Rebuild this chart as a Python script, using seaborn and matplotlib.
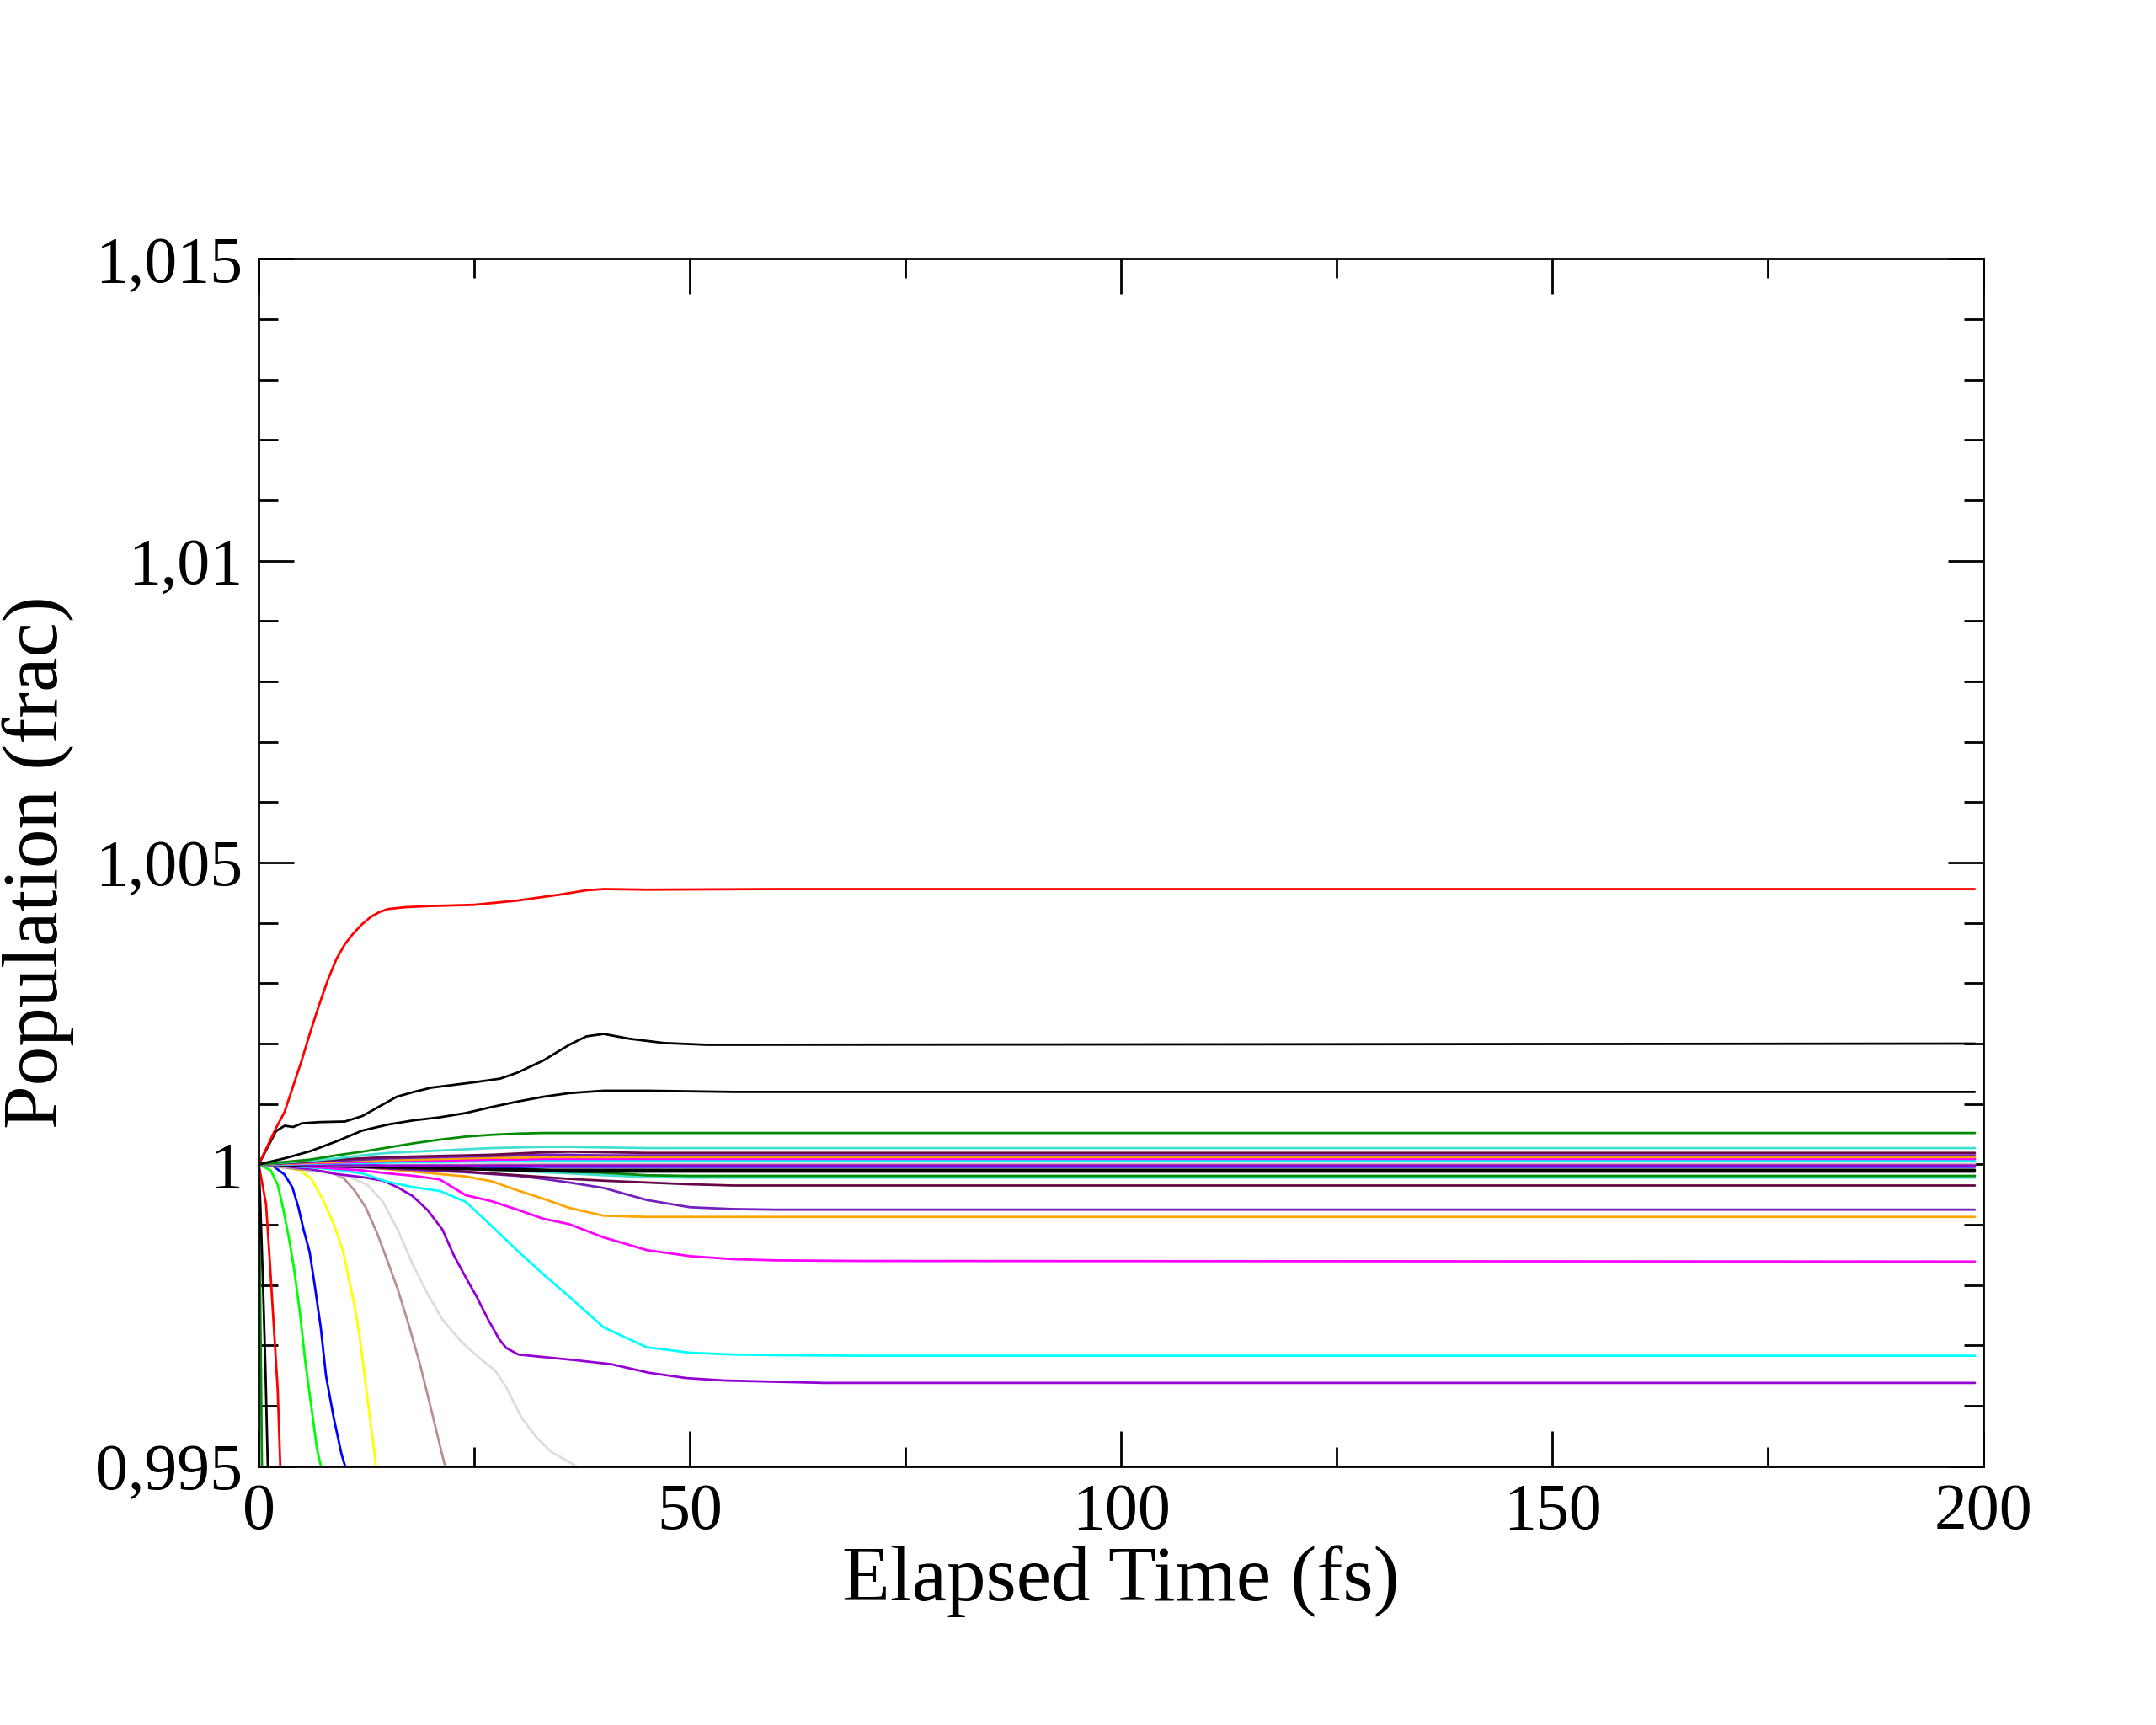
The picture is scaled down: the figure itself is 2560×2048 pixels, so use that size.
import numpy as np
import pandas as pd
import matplotlib
matplotlib.use("Agg")
import matplotlib.pyplot as plt
from matplotlib.ticker import MultipleLocator, FuncFormatter
import seaborn as sns

# ---------------- data ----------------
# shared time grid (fs) for the curves that settle to a plateau
T_GRID = [0, 3, 6, 9, 12, 15, 18, 21, 24, 27, 30, 33, 36, 40, 45, 50, 55, 60, 70, 199]

red_top_t = [0, 1, 2, 3, 4, 5, 6, 7, 8, 9, 10, 11, 12, 13, 14, 15, 17, 20, 25, 30, 35, 38, 40, 45, 60, 199]
red_top_v = [1.0, 1.0003, 1.0006, 1.00087, 1.0013, 1.00173, 1.0022, 1.00264, 1.00305, 1.0034, 1.00365,
             1.00383, 1.00398, 1.0041, 1.00418, 1.00423, 1.00426, 1.00428, 1.0043, 1.00437, 1.00447,
             1.00454, 1.00456, 1.00455, 1.00456, 1.00456]
black_top_t = [0, 2, 3, 4, 5, 7, 10, 12, 14, 16, 18, 20, 25, 28, 30, 33, 36, 38, 40, 43, 47, 52, 199]
black_top_v = [1.0, 1.00055, 1.00064, 1.00062, 1.00068, 1.0007, 1.00071, 1.0008, 1.00096, 1.00112, 1.0012,
               1.00127, 1.00136, 1.00142, 1.00152, 1.00172, 1.00198, 1.00212, 1.00216, 1.00208, 1.00201,
               1.00198, 1.002]
black_up2 = [1.0, 1.0001, 1.00022, 1.00038, 1.00056, 1.00066, 1.00073, 1.00078, 1.00085, 1.00095,
             1.00104, 1.00112, 1.00118, 1.00122, 1.00122, 1.00121, 1.0012, 1.0012, 1.0012, 1.0012]
green4_up = [1.0, 1.00004, 1.00008, 1.00015, 1.00021, 1.00028, 1.00035, 1.00041, 1.00046, 1.00049,
             1.00051, 1.00052, 1.00052, 1.00052, 1.00052, 1.00052, 1.00052, 1.00052, 1.00052, 1.00052]
turq_up = [1.0, 1.00003, 1.00006, 1.0001, 1.00015, 1.00019, 1.00021, 1.00023, 1.00025, 1.00027,
           1.00028, 1.00029, 1.00029, 1.00028, 1.00027, 1.00027, 1.00027, 1.00027, 1.00027, 1.00027]
maroon_up = [1.0, 1.00002, 1.00005, 1.00008, 1.0001, 1.00012, 1.00013, 1.00014, 1.00015, 1.00016,
             1.00018, 1.0002, 1.00021, 1.0002, 1.00019, 1.00019, 1.00019, 1.00019, 1.00019, 1.00019]
indigo_up = [1.0, 1.00002, 1.00004, 1.00006, 1.00008, 1.0001, 1.00011, 1.00012, 1.00013, 1.00014,
             1.00015, 1.00016, 1.00016, 1.00015, 1.00015, 1.00015, 1.00015, 1.00015, 1.00015, 1.00015]
orange_up = [1.0, 1.00001, 1.00003, 1.00004, 1.00006, 1.00007, 1.00008, 1.00009, 1.0001, 1.00011,
             1.00011, 1.00012, 1.00012, 1.00012, 1.00012, 1.00012, 1.00012, 1.00012, 1.00012, 1.00012]
magenta_up = [1.0, 1.00001, 1.00002, 1.00003, 1.00004, 1.00005, 1.00006, 1.00006, 1.00007, 1.00008,
              1.00008, 1.00009, 1.00009, 1.00009, 1.00009, 1.00009, 1.00009, 1.00009, 1.00009, 1.00009]
cyan_up = [1.0, 1.0, 1.00001, 1.00002, 1.00002, 1.00003, 1.00004, 1.00004, 1.00005, 1.00005,
           1.00006, 1.00006, 1.00006, 1.00006, 1.00006, 1.00006, 1.00006, 1.00006, 1.00006, 1.00006]
grey_mid = [1.0, 1.0, 1.0, 1.00001, 1.00001, 1.00001, 1.00002, 1.00002, 1.00002, 1.00003,
            1.00003, 1.00003, 1.00003, 1.00003, 1.00003, 1.00003, 1.00003, 1.00003, 1.00003, 1.00003]
brown_mid = [1.0, 1.0, 1.0, 1.0, 1.00001, 1.00001, 1.00001, 1.00001, 1.00001, 1.00001,
             1.00001, 1.00001, 1.00001, 1.00001, 1.00001, 1.00001, 1.00001, 1.00001, 1.00001, 1.00001]
yellow_mid = [1.0, 1.0, 1.0, 0.99999, 0.99999, 0.99999, 0.99998, 0.99998, 0.99998, 0.99999,
              0.99999, 1.0, 1.0, 1.0, 1.0, 1.0, 1.0, 1.0, 1.0, 1.0]
lime_mid = [1.0, 1.0, 1.0, 1.0, 0.99999, 0.99999, 0.99999, 0.99999, 0.99999, 0.99999,
            0.99999, 0.99999, 0.99999, 0.99999, 0.99999, 0.99999, 0.99999, 0.99999, 0.99999, 0.99999]
violet_mid = [1.0, 1.0, 0.99999, 0.99999, 0.99999, 0.99998, 0.99998, 0.99998, 0.99998, 0.99998,
              0.99998, 0.99998, 0.99998, 0.99998, 0.99998, 0.99998, 0.99998, 0.99998, 0.99998, 0.99998]
red_mid = [1.0, 1.0, 0.99999, 0.99999, 0.99998, 0.99998, 0.99998, 0.99997, 0.99997, 0.99997,
           0.99997, 0.99997, 0.99997, 0.99997, 0.99997, 0.99997, 0.99997, 0.99997, 0.99997, 0.99997]
blue_mid = [1.0, 1.0, 0.99999, 0.99999, 0.99998, 0.99998, 0.99997, 0.99997, 0.99997, 0.99996,
            0.99996, 0.99996, 0.99996, 0.99996, 0.99996, 0.99996, 0.99996, 0.99996, 0.99996, 0.99996]
black_mid1 = [1.0, 1.0, 0.99999, 0.99998, 0.99997, 0.99996, 0.99995, 0.99994, 0.99993, 0.99992,
              0.99992, 0.99991, 0.99991, 0.99991, 0.99991, 0.99991, 0.99991, 0.99991, 0.99991, 0.99991]
black_mid2 = [1.0, 0.99999, 0.99998, 0.99997, 0.99996, 0.99995, 0.99994, 0.99993, 0.99992, 0.99991,
              0.9999, 0.99989, 0.99988, 0.99988, 0.99988, 0.99988, 0.99988, 0.99988, 0.99988, 0.99988]
green4_lo = [1.0, 1.0, 1.0, 0.99999, 0.99999, 0.99998, 0.99998, 0.99997, 0.99997, 0.99995,
             0.99993, 0.99991, 0.99988, 0.99986, 0.99982, 0.99981, 0.99981, 0.99981, 0.99981, 0.99981]
turq_lo = [1.0, 1.0, 0.99999, 0.99998, 0.99997, 0.99996, 0.99995, 0.99994, 0.99993, 0.99991,
           0.99989, 0.99987, 0.99985, 0.99982, 0.99979, 0.99978, 0.99978, 0.99978, 0.99978, 0.99978]
maroon_lo = [1.0, 0.99999, 0.99998, 0.99997, 0.99996, 0.99994, 0.99993, 0.99991, 0.99988, 0.99985,
             0.99982, 0.99979, 0.99976, 0.99973, 0.9997, 0.99967, 0.99965, 0.99965, 0.99965, 0.99965]
indigo_lo = [1.0, 0.99999, 0.99998, 0.99996, 0.99995, 0.99993, 0.99991, 0.99989, 0.99987, 0.99984,
             0.99981, 0.99976, 0.9997, 0.99961, 0.99941, 0.99929, 0.99926, 0.99925, 0.99925, 0.99925]
orange_lo = [1.0, 1.0, 0.99999, 0.99997, 0.99995, 0.99992, 0.99988, 0.99984, 0.9998, 0.99972,
             0.99957, 0.99943, 0.99928, 0.99915, 0.99913, 0.99913, 0.99913, 0.99913, 0.99913, 0.99913]
magenta_lo = [1.0, 0.99999, 0.99996, 0.99993, 0.9999, 0.99985, 0.99981, 0.99975, 0.99949, 0.99939,
              0.99925, 0.9991, 0.99901, 0.99879, 0.99858, 0.99848, 0.99843, 0.99841, 0.9984, 0.99839]
cyan_lo = [1.0, 0.99998, 0.99995, 0.99991, 0.99985, 0.99971, 0.99962, 0.99956, 0.99938, 0.99898,
           0.99857, 0.99818, 0.99781, 0.9973, 0.99697, 0.99688, 0.99685, 0.99684, 0.99683, 0.99683]
violet_lo_t = [0, 3, 6, 9, 12, 14.4, 16.1, 17.8, 19.6, 21.3, 22.6, 24, 25.3, 26.6, 27.9, 28.7, 30.1,
               32.2, 36.5, 40.9, 45.2, 49.6, 54, 65.6, 199]
violet_lo_v = [1.0, 0.99997, 0.99992, 0.99984, 0.99979, 0.99973, 0.99962, 0.99948, 0.99924, 0.99892,
               0.9985, 0.99813, 0.9978, 0.99743, 0.9971, 0.99696, 0.99685, 0.99682, 0.99676, 0.99669,
               0.99655, 0.99646, 0.99642, 0.99638, 0.99638]

# fast decaying curves (leave the plotted range early)
grey_fast_t = [0, 5, 10.4, 12.6, 14.4, 16.1, 17.8, 19.6, 21.3, 23.5, 25.7, 27.4, 28.7, 30.5, 32.2, 33.9, 36.1, 38]
grey_fast_v = [1.0, 0.99994, 0.9998, 0.99966, 0.99938, 0.99892, 0.99836, 0.99785, 0.99743, 0.99706,
               0.99678, 0.99659, 0.99631, 0.9958, 0.99548, 0.99524, 0.99506, 0.9949]
brown_fast_t = [0, 3.9, 6.1, 8.3, 9.8, 11.1, 12.4, 13.7, 14.8, 16.1, 17.4, 18.7, 20.0, 21.1, 22.5]
brown_fast_v = [1.0, 0.99993, 0.9999, 0.99987, 0.99978, 0.99957, 0.99929, 0.99887, 0.99845, 0.99794,
                0.99734, 0.99669, 0.99594, 0.99529, 0.9945]
yellow_fast_t = [0, 2.6, 4.8, 6.1, 7.4, 8.7, 9.8, 10.4, 11.1, 11.75, 12.4, 13.1, 13.6, 14.5]
yellow_fast_v = [1.0, 0.99997, 0.9999, 0.99976, 0.99943, 0.99901, 0.99855, 0.99813, 0.99766, 0.9971,
                 0.99636, 0.99557, 0.99501, 0.9942]
blue_fast_t = [0, 1.7, 3.0, 3.9, 4.6, 5.2, 5.9, 6.5, 7.2, 7.8, 8.7, 9.6, 10.0, 11.0]
blue_fast_v = [1.0, 0.99997, 0.99983, 0.99962, 0.99929, 0.99892, 0.99855, 0.99799, 0.99729, 0.9965,
               0.9958, 0.9952, 0.99501, 0.9943]
lime_fast_t = [0, 1.4, 2.2, 2.8, 3.5, 4.1, 4.8, 5.4, 6.1, 6.75, 7.2, 8.0]
lime_fast_v = [1.0, 0.9999, 0.99966, 0.99929, 0.99878, 0.99827, 0.99752, 0.99673, 0.99599, 0.99529,
               0.99501, 0.9944]
red_fast_t = [0, 0.85, 1.3, 1.7, 2.2, 2.5, 3.0]
red_fast_v = [1.0, 0.99934, 0.99836, 0.99743, 0.99627, 0.99501, 0.9935]
black_fast_t = [0, 0.2, 0.5, 0.8, 1.05, 1.3]
black_fast_v = [1.0, 0.9993, 0.998, 0.9965, 0.995, 0.994]
green4_fast_t = [0, 0.1, 0.25, 0.37, 0.5]
green4_fast_v = [1.0, 0.9988, 0.9968, 0.995, 0.993]

# xmgrace default colour map
C = {
    "black": "#000000", "red": "#ff0000", "green": "#00ff00", "blue": "#0000ff",
    "yellow": "#ffff00", "brown": "#bc8f8f", "grey": "#dcdcdc", "violet": "#9400d3",
    "cyan": "#00ffff", "magenta": "#ff00ff", "orange": "#ffa500", "indigo": "#7221bc",
    "maroon": "#670748", "turquoise": "#40e0d0", "green4": "#008b00",
}

series = [
    ("green4_fast", green4_fast_t, green4_fast_v, "green4"),
    ("black_fast", black_fast_t, black_fast_v, "black"),
    ("red_fast", red_fast_t, red_fast_v, "red"),
    ("lime_fast", lime_fast_t, lime_fast_v, "green"),
    ("blue_fast", blue_fast_t, blue_fast_v, "blue"),
    ("yellow_fast", yellow_fast_t, yellow_fast_v, "yellow"),
    ("brown_fast", brown_fast_t, brown_fast_v, "brown"),
    ("grey_fast", grey_fast_t, grey_fast_v, "grey"),
    ("violet_lo", violet_lo_t, violet_lo_v, "violet"),
    ("cyan_lo", T_GRID, cyan_lo, "cyan"),
    ("magenta_lo", T_GRID, magenta_lo, "magenta"),
    ("orange_lo", T_GRID, orange_lo, "orange"),
    ("indigo_lo", T_GRID, indigo_lo, "indigo"),
    ("maroon_lo", T_GRID, maroon_lo, "maroon"),
    ("turq_lo", T_GRID, turq_lo, "turquoise"),
    ("green4_lo", T_GRID, green4_lo, "green4"),
    ("black_mid2", T_GRID, black_mid2, "black"),
    ("black_mid1", T_GRID, black_mid1, "black"),
    ("red_mid", T_GRID, red_mid, "red"),
    ("lime_mid", T_GRID, lime_mid, "green"),
    ("blue_mid", T_GRID, blue_mid, "blue"),
    ("yellow_mid", T_GRID, yellow_mid, "yellow"),
    ("brown_mid", T_GRID, brown_mid, "brown"),
    ("grey_mid", T_GRID, grey_mid, "grey"),
    ("violet_mid", T_GRID, violet_mid, "violet"),
    ("cyan_up", T_GRID, cyan_up, "cyan"),
    ("magenta_up", T_GRID, magenta_up, "magenta"),
    ("orange_up", T_GRID, orange_up, "orange"),
    ("indigo_up", T_GRID, indigo_up, "indigo"),
    ("maroon_up", T_GRID, maroon_up, "maroon"),
    ("turq_up", T_GRID, turq_up, "turquoise"),
    ("green4_up", T_GRID, green4_up, "green4"),
    ("black_up2", T_GRID, black_up2, "black"),
    ("black_top", black_top_t, black_top_v, "black"),
    ("red_top", red_top_t, red_top_v, "red"),
]

frames = []
for name, t, v, _ in series:
    frames.append(pd.DataFrame({"t": t, "pop": v, "set": name}))
df = pd.concat(frames, ignore_index=True)
palette = {name: C[col] for name, _, _, col in series}
order = [s[0] for s in series]

# ---------------- plot ----------------
sns.set_theme(style="white")
plt.rcParams["font.family"] = ["Liberation Serif", "DejaVu Serif"]
plt.rcParams["axes.linewidth"] = 1.0

fig = plt.figure(figsize=(12.8, 10.24), dpi=200)
ax = fig.add_axes([0.12, 0.15, 0.80, 0.70])

sns.lineplot(data=df, x="t", y="pop", hue="set", hue_order=order, palette=palette,
             estimator=None, sort=False, legend=False, linewidth=1.0, ax=ax)

ax.set_xlim(0, 200)
ax.set_ylim(0.995, 1.015)
ax.xaxis.set_major_locator(MultipleLocator(50))
ax.xaxis.set_minor_locator(MultipleLocator(25))
ax.yaxis.set_major_locator(MultipleLocator(0.005))
ax.yaxis.set_minor_locator(MultipleLocator(0.001))


def comma_fmt(v, pos):
    s = "%g" % round(v, 6)
    return s.replace(".", ",")


ax.yaxis.set_major_formatter(FuncFormatter(comma_fmt))
ax.xaxis.set_major_formatter(FuncFormatter(lambda v, p: "%g" % v))

ax.tick_params(which="both", direction="in", top=True, right=True, bottom=True, left=True,
               colors="black", width=1.0, labelsize=28, pad=7)
ax.tick_params(which="major", length=15)
ax.tick_params(which="minor", length=8.3)
for sp in ax.spines.values():
    sp.set_color("black")
    sp.set_linewidth(1.0)

ax.set_xlabel("Elapsed Time (fs)", fontsize=33.5, labelpad=1, color="black")
ax.set_ylabel("Population (frac)", fontsize=33.5, labelpad=9, color="black")

fig.savefig("out.png", dpi=200, facecolor="white")
